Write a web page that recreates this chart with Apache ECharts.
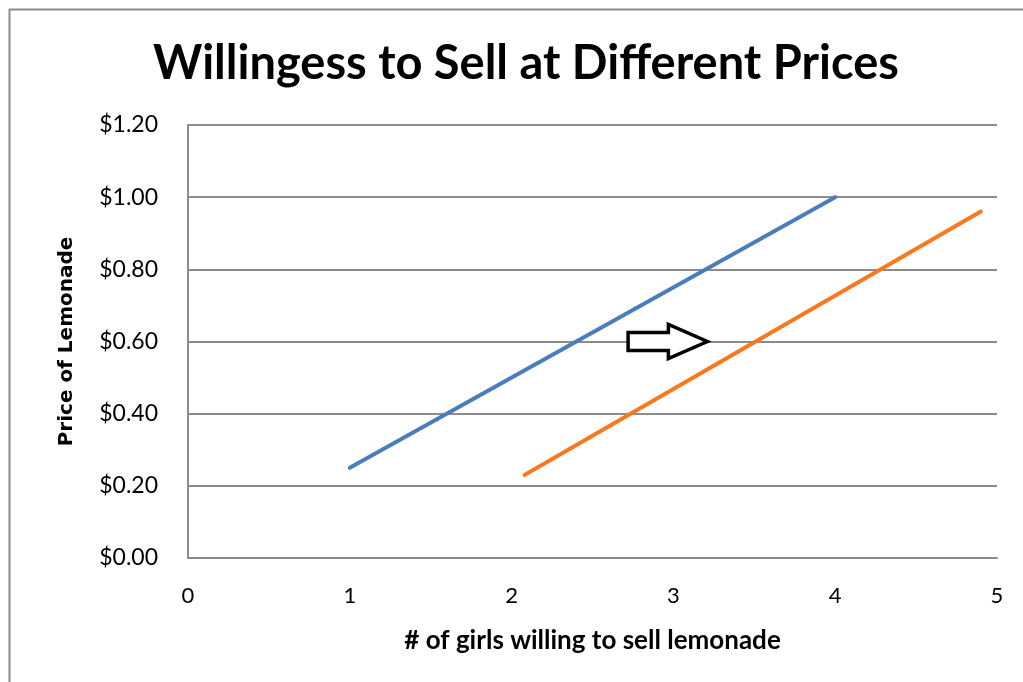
<!DOCTYPE html>
<html>
<head>
<meta charset="utf-8">
<script src="https://cdn.jsdelivr.net/npm/echarts@6/dist/echarts.min.js"></script>
<style>
  html, body { margin: 0; padding: 0; background: #fff; }
  #chart { width: 1023px; height: 682px; }
</style>
</head>
<body>
<div id="chart"></div>
<script>
const titleText = 'Willingess to Sell at Different Prices'
const xName = '# of girls willing to sell lemonade'
const yName = 'Price of Lemonade'

// [girls, price]
const blueLine = [[1, 0.25], [4, 1.0]]
const orangeLine = [[2.08, 0.23], [4.9, 0.96]]
// shift arrow: [x start, x tip, price]
const shiftArrow = [[2.72, 3.21, 0.6]]

const FONT = 'Lato, "Open Sans", sans-serif'

const chart = echarts.init(document.getElementById('chart'))

function renderArrow(params, api) {
  const start = api.coord([api.value(0), api.value(2)])
  const tip = api.coord([api.value(1), api.value(2)])
  const y = start[1]
  const headLen = 39
  const shaftH = 9
  const headH = 17
  const baseX = tip[0] - headLen
  return {
    type: 'polygon',
    shape: {
      points: [
        [start[0], y - shaftH],
        [baseX, y - shaftH],
        [baseX, y - headH],
        [tip[0], y],
        [baseX, y + headH],
        [baseX, y + shaftH],
        [start[0], y + shaftH]
      ]
    },
    style: { fill: '#fff', stroke: '#000', lineWidth: 3.5, lineJoin: 'miter' }
  }
}

chart.setOption({
  animation: false,
  backgroundColor: '#fff',
  title: {
    text: titleText,
    left: 148,
    top: 35,
    textStyle: { fontFamily: FONT, fontSize: 47, fontWeight: 'bold', color: '#000' }
  },
  graphic: [{
    type: 'rect',
    left: 7, top: 7,
    shape: { width: 1100, height: 1000 },
    style: { fill: 'none', stroke: '#8c8c8c', lineWidth: 2 }
  }],
  grid: { left: 188, right: 26, top: 125, bottom: 124 },
  xAxis: {
    type: 'value',
    min: 0, max: 5, interval: 1,
    name: xName,
    nameLocation: 'middle',
    nameGap: 70,
    nameTextStyle: { fontFamily: FONT, fontSize: 26, fontWeight: 'bold', color: '#000' },
    axisLine: { show: true, lineStyle: { color: '#8c8c8c', width: 2 } },
    axisTick: { show: false },
    axisLabel: { fontFamily: FONT, fontSize: 22, color: '#000', margin: 27 },
    splitLine: { show: false }
  },
  yAxis: {
    type: 'value',
    min: 0, max: 1.2, interval: 0.2,
    name: yName,
    nameLocation: 'middle',
    nameGap: 111,
    nameRotate: 90,
    nameTextStyle: { fontFamily: '"DejaVu Sans", sans-serif', fontSize: 20, fontWeight: 'bold', color: '#000' },
    axisLine: { show: true, lineStyle: { color: '#8c8c8c', width: 2 } },
    axisTick: { show: false },
    axisLabel: {
      fontFamily: FONT, fontSize: 23, color: '#000', margin: 30,
      formatter: v => '$' + v.toFixed(2)
    },
    splitLine: { lineStyle: { color: '#8c8c8c', width: 2 } }
  },
  series: [
    {
      type: 'line',
      data: blueLine,
      symbol: 'none',
      lineStyle: { color: '#4a7ebb', width: 4, cap: 'round' }
    },
    {
      type: 'line',
      data: orangeLine,
      symbol: 'none',
      lineStyle: { color: '#f9791f', width: 4, cap: 'round' }
    },
    {
      type: 'custom',
      data: shiftArrow,
      renderItem: renderArrow,
      z: 5
    }
  ]
})
</script>
</body>
</html>
